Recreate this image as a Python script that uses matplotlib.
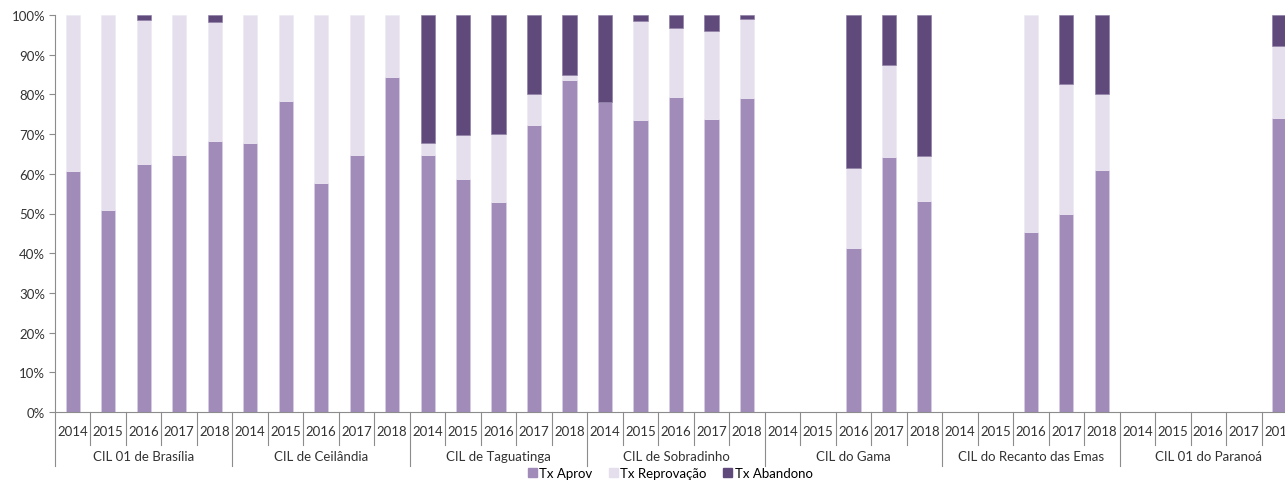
import matplotlib.pyplot as plt
from matplotlib.patches import Patch
import matplotlib.transforms as mtransforms
import numpy as np

plt.rcParams['font.family'] = ['Lato', 'DejaVu Sans']

# School groups and years on the x axis
escolas = ['CIL 01 de Brasília', 'CIL de Ceilândia', 'CIL de Taguatinga',
           'CIL de Sobradinho', 'CIL do Gama', 'CIL do Recanto das Emas',
           'CIL 01 do Paranoá']
anos = ['2014', '2015', '2016', '2017', '2018']

# Rates in percent, one value per (school, year)
tx_aprov = [60.6, 50.8, 62.5, 64.7, 68.2,
            67.7, 78.3, 57.6, 64.7, 84.3,
            64.7, 58.6, 52.9, 72.2, 83.7,
            78.1, 73.5, 79.3, 73.8, 79.1,
            0, 0, 41.3, 64.2, 53.1,
            0, 0, 45.4, 49.9, 61.0,
            0, 0, 0, 0, 74.1]
tx_reprov = [39.4, 49.2, 36.3, 35.3, 30.1,
             32.3, 21.7, 42.4, 35.3, 15.7,
             3.0, 11.2, 17.0, 7.9, 1.2,
             0, 25.1, 17.3, 22.1, 19.8,
             0, 0, 20.1, 23.1, 11.3,
             0, 0, 54.6, 32.6, 19.0,
             0, 0, 0, 0, 18.0]
tx_aband = [0, 0, 1.2, 0, 1.7,
            0, 0, 0, 0, 0,
            32.3, 30.2, 30.1, 19.9, 15.1,
            21.9, 1.4, 3.4, 4.1, 1.1,
            0, 0, 38.6, 12.7, 35.6,
            0, 0, 0, 17.5, 20.0,
            0, 0, 0, 0, 7.9]

c_aprov = '#a08bb9'
c_reprov = '#e5dfed'
c_aband = '#5f4a7b'
grey = '#8c8c8c'

n = len(escolas) * len(anos)
x = np.arange(n)
aprov = np.array(tx_aprov) / 100
reprov = np.array(tx_reprov) / 100
aband = np.array(tx_aband) / 100

fig = plt.figure(figsize=(12.85, 4.81), dpi=100)
# the plot runs slightly past the right edge of the figure
ax = fig.add_axes([55 / 1285, 68 / 481, 1242 / 1285, 397 / 481])

w = 0.4


def stacked(vals, base, color, edge):
    # draw only the non-empty segments so no edge lines show for zeros
    m = vals > 0
    ax.bar(x[m], vals[m], w, bottom=base[m], color=color,
           edgecolor=edge, linewidth=0.4)


stacked(aprov, np.zeros(n), c_aprov, '#d9d0e6')
stacked(reprov, aprov, c_reprov, '#efeaf4')
stacked(aband, aprov + reprov, c_aband, '#8a78a3')

ax.set_xlim(-0.5, n - 0.5)
ax.set_ylim(0, 1)
ax.set_yticks(np.arange(0, 1.01, 0.1))
ax.set_yticklabels([f'{int(round(v * 100))}%' for v in np.arange(0, 1.01, 0.1)],
                   fontsize=9.5, color='#333333')
ax.tick_params(axis='y', length=4, color=grey, pad=3)
ax.set_xticks([])

for side in ['top', 'right']:
    ax.spines[side].set_visible(False)
ax.spines['left'].set_color(grey)
ax.spines['bottom'].set_color(grey)

# two-level category axis: years, then school names
trans = mtransforms.blended_transform_factory(ax.transData, ax.transAxes)
for i in range(n + 1):
    low = -0.137 if i % len(anos) == 0 else -0.082
    ax.plot([i - 0.5, i - 0.5], [0, low], color=grey, lw=0.8,
            transform=trans, clip_on=False)
for i in range(n):
    ax.text(i, -0.048, anos[i % len(anos)], transform=trans, ha='center',
            va='center', fontsize=9.5, color='#333333', clip_on=False)
for g, nome in enumerate(escolas):
    centro = g * len(anos) + (len(anos) - 1) / 2
    ax.text(centro, -0.111, nome, transform=trans, ha='center', va='center',
            fontsize=9.5, color='#333333', clip_on=False)

handles = [Patch(color=c_aprov, label='Tx Aprov'),
           Patch(color=c_reprov, label='Tx Reprovação'),
           Patch(color=c_aband, label='Tx Abandono')]
fig.legend(handles=handles, loc='center', bbox_to_anchor=(670 / 1285, 7 / 481),
           ncol=3, frameon=False, fontsize=9.5, handlelength=0.7, handleheight=0.7,
           handletextpad=0.2, columnspacing=1.2, borderpad=0)

fig.savefig('out.png', dpi=100)
